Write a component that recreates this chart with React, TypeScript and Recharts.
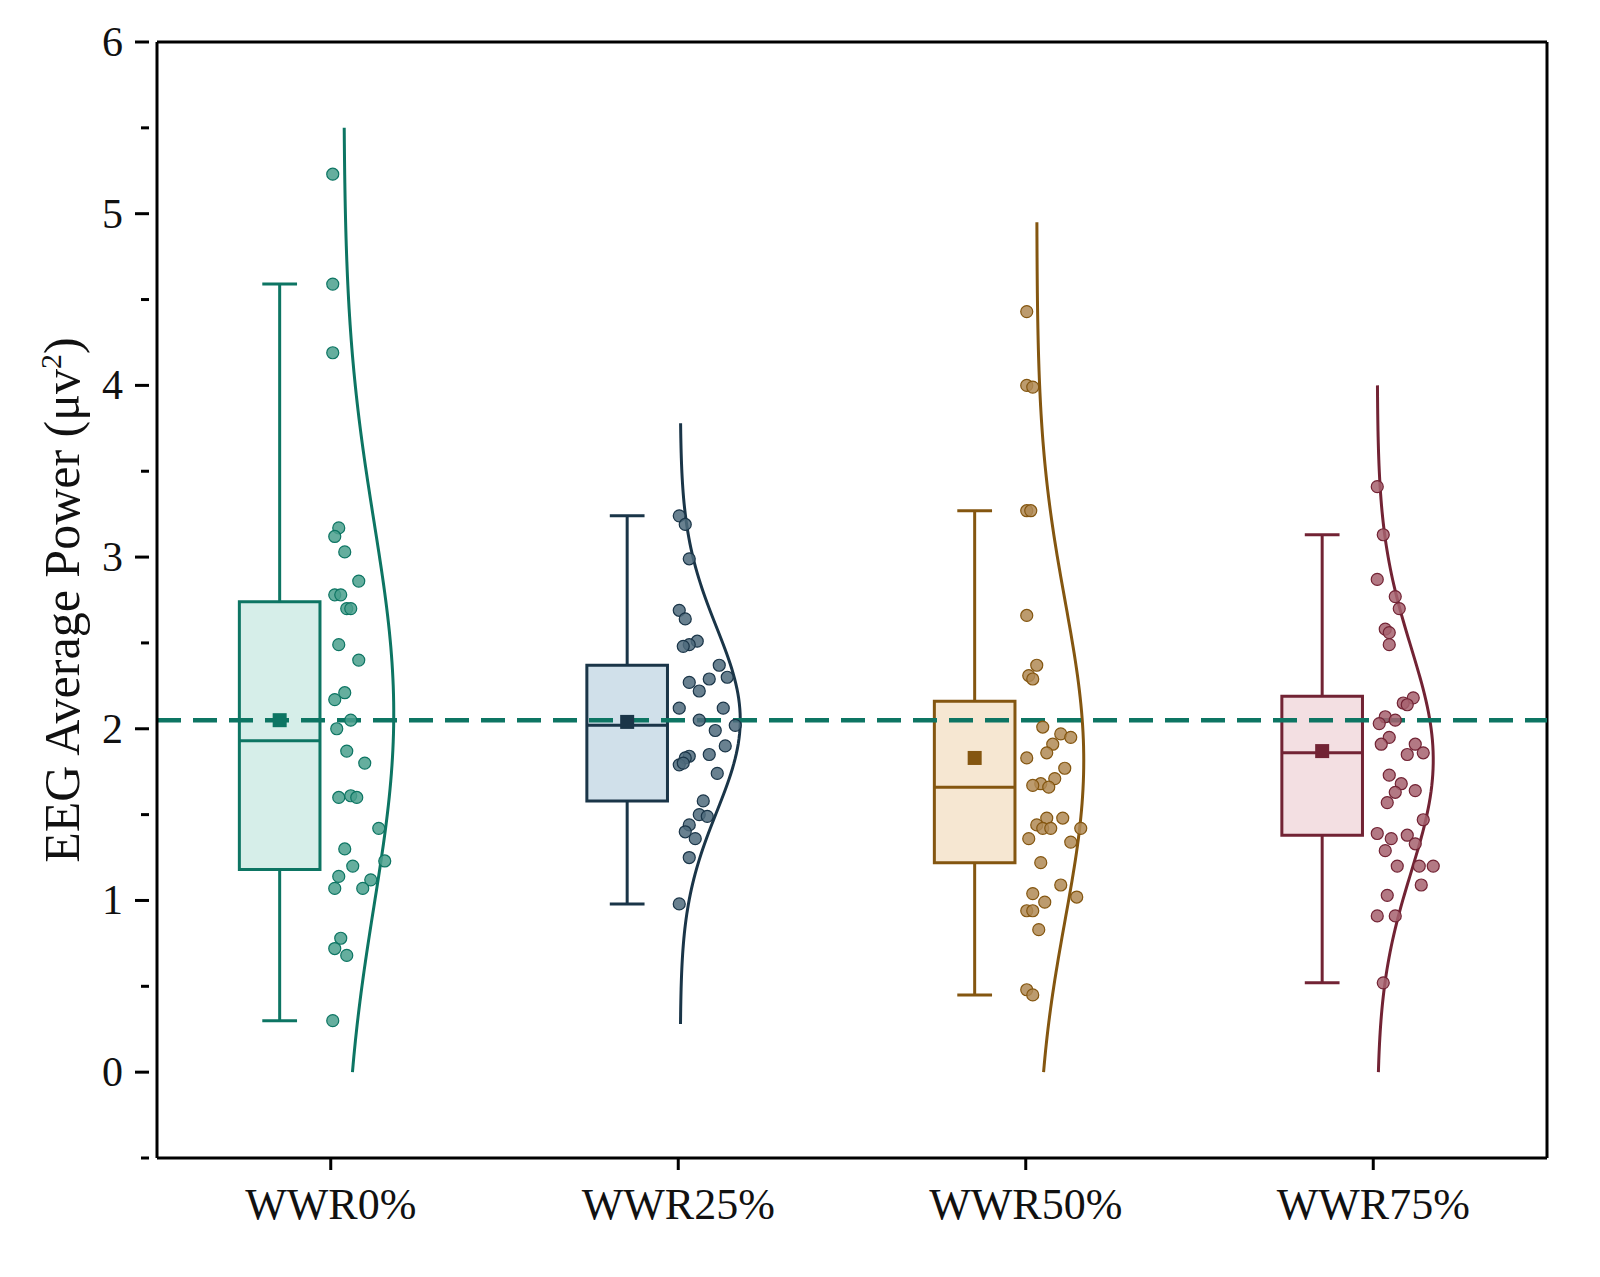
import { ComposedChart, XAxis, YAxis, Scatter, Line, ReferenceArea, ReferenceLine } from 'recharts'

const categories = ['WWR0%', 'WWR25%', 'WWR50%', 'WWR75%']
const strokes = ['#0d7563', '#1a3548', '#845610', '#722334']
const fills = ['#d6eee9', '#d0e0ea', '#f6e7d2', '#f3dfe2']
const dotFills = ['#4aa08d', '#4f6b7d', '#b08a55', '#a6626f']

// box stats: [whisker low, Q1, median, Q3, whisker high, mean]
const boxStats = [
  [0.3, 1.18, 1.93, 2.74, 4.59, 2.05],
  [0.98, 1.58, 2.02, 2.37, 3.24, 2.04],
  [0.45, 1.22, 1.66, 2.16, 3.27, 1.83],
  [0.52, 1.38, 1.86, 2.19, 3.13, 1.87],
]

// raw points: [jitter px from category centre, value]
const points0 = [[2,5.23],[2,4.59],[2,4.19],[8,3.17],[4,3.12],[14,3.03],[28,2.86],[4,2.78],[10,2.78],[16,2.7],[20,2.7],[8,2.49],[28,2.4],[14,2.21],[4,2.17],[20,2.05],[6,2.0],[16,1.87],[34,1.8],[8,1.6],[20,1.61],[26,1.6],[48,1.42],[14,1.3],[22,1.2],[54,1.23],[8,1.14],[40,1.12],[32,1.07],[4,1.07],[10,0.78],[4,0.72],[16,0.68],[2,0.3]]
const points1 = [[1,3.24],[7,3.19],[11,2.99],[1,2.69],[7,2.64],[19,2.51],[11,2.49],[5,2.48],[41,2.37],[49,2.3],[31,2.29],[11,2.27],[21,2.22],[1,2.12],[45,2.12],[57,2.02],[21,2.05],[37,1.99],[47,1.9],[31,1.85],[11,1.84],[7,1.83],[1,1.79],[5,1.8],[39,1.74],[25,1.58],[21,1.5],[29,1.49],[11,1.44],[7,1.4],[17,1.36],[11,1.25],[1,0.98]]
const points2 = [[1,4.43],[1,4.0],[7,3.99],[1,3.27],[5,3.27],[1,2.66],[11,2.37],[3,2.31],[7,2.29],[17,2.01],[35,1.97],[45,1.95],[27,1.91],[21,1.86],[1,1.83],[39,1.77],[29,1.71],[15,1.68],[23,1.66],[7,1.67],[21,1.48],[37,1.48],[11,1.44],[17,1.42],[25,1.42],[55,1.42],[3,1.36],[45,1.34],[15,1.22],[35,1.09],[7,1.04],[19,0.99],[51,1.02],[1,0.94],[7,0.94],[13,0.83],[1,0.48],[7,0.45]]
const points3 = [[4,3.41],[10,3.13],[4,2.87],[22,2.77],[26,2.7],[12,2.58],[16,2.56],[16,2.49],[40,2.18],[30,2.15],[34,2.14],[12,2.07],[6,2.03],[22,2.05],[16,1.95],[8,1.91],[42,1.91],[50,1.86],[34,1.85],[16,1.73],[28,1.68],[22,1.63],[42,1.64],[14,1.57],[50,1.47],[4,1.39],[34,1.38],[18,1.36],[42,1.33],[12,1.29],[24,1.2],[46,1.2],[60,1.2],[48,1.09],[14,1.03],[4,0.91],[22,0.91],[10,0.52]]
const allPoints = [points0, points1, points2, points3]

// density curve: [base offset px, low end, high end, peak width px]
const curves = [
  [13, 0, 5.5, 50],
  [2, 0.28, 3.78, 60],
  [11, 0, 4.95, 47],
  [4, 0, 4.0, 56],
]

const meanLine = 2.05
const yTicks = [-0.5, 0, 0.5, 1, 1.5, 2, 2.5, 3, 3.5, 4, 4.5, 5, 5.5, 6]
const PX = 1 / 347.5 // x units per pixel
const boxOffset = -0.147
const boxHalf = 0.116

const font = '"Liberation Serif", "Times New Roman", serif'

const YTick = (props: any) => {
  const { x, y, payload } = props
  const major = Number.isInteger(payload.value) && payload.value >= 0
  return (
    <g>
      <line x1={x} x2={x - (major ? 14 : 8)} y1={y} y2={y} stroke="#000" strokeWidth={3} />
      {major && (
        <text x={x - 26} y={y} dy={14} textAnchor="end" fontSize={42} fontFamily={font} fill="#111">
          {payload.value}
        </text>
      )}
    </g>
  )
}

const meanSquare = (color: string) => (props: any) => (
  <rect x={props.cx - 7} y={props.cy - 7} width={14} height={14} fill={color} />
)

const dot = (fill: string, stroke: string) => (props: any) => (
  <circle cx={props.cx} cy={props.cy} r={6} fill={fill} fillOpacity={0.85} stroke={stroke} strokeWidth={1.2} />
)

export default function App() {
  const scatterData = allPoints.map((pts, i) =>
    pts.map(([dx, v]) => ({ x: i + 0.5 + dx * PX, y: v }))
  )

  const curveData = allPoints.map((pts, i) => {
    const vals = pts.map((p) => p[1])
    const mean = vals.reduce((a, b) => a + b, 0) / vals.length
    const sd = Math.sqrt(vals.reduce((a, b) => a + (b - mean) ** 2, 0) / vals.length)
    const [base, lo, hi, width] = curves[i]
    const out: { x: number; y: number }[] = []
    for (let k = 0; k <= 120; k++) {
      const y = lo + ((hi - lo) * k) / 120
      const d = Math.exp(-0.5 * ((y - mean) / sd) ** 2)
      out.push({ x: i + 0.5 + (base + width * d) * PX, y })
    }
    return out
  })

  return (
    <div style={{ position: 'absolute', left: 0, top: 0, width: 1600, height: 1277, background: '#fff' }}>
      <div
        style={{
          position: 'absolute', left: 62, top: 600, transform: 'translate(-50%, -50%) rotate(-90deg)',
          fontFamily: font, fontSize: 50, whiteSpace: 'nowrap', color: '#111',
        }}
      >
        EEG Average Power (μv<sup style={{ fontSize: 30 }}>2</sup>)
      </div>
      <ComposedChart width={1600} height={1277} margin={{ top: 42, right: 53, left: 57, bottom: 39 }}>
        <XAxis
          type="number" dataKey="x" domain={[0, 4]} ticks={[0.5, 1.5, 2.5, 3.5]}
          tickFormatter={(v: number) => categories[Math.floor(v)]}
          height={80} stroke="#000" strokeWidth={3} tickSize={12}
          tick={{ fontSize: 44, fontFamily: font, fill: '#111', dy: 16 }}
        />
        <YAxis
          type="number" dataKey="y" domain={[-0.5, 6]} ticks={yTicks} interval={0}
          width={100} stroke="#000" strokeWidth={3} tickLine={false} tick={<YTick />}
        />
        <ReferenceLine y={6} stroke="#000" strokeWidth={3} />
        <ReferenceLine x={4} stroke="#000" strokeWidth={3} />
        {boxStats.map(([lo, q1, med, q3, hi], i) => {
          const c = i + 0.5 + boxOffset
          const s = strokes[i]
          return [
            <ReferenceLine key={`wu${i}`} segment={[{ x: c, y: q3 }, { x: c, y: hi }]} stroke={s} strokeWidth={3} />,
            <ReferenceLine key={`wl${i}`} segment={[{ x: c, y: lo }, { x: c, y: q1 }]} stroke={s} strokeWidth={3} />,
            <ReferenceLine key={`cu${i}`} segment={[{ x: c - 0.05, y: hi }, { x: c + 0.05, y: hi }]} stroke={s} strokeWidth={3} />,
            <ReferenceLine key={`cl${i}`} segment={[{ x: c - 0.05, y: lo }, { x: c + 0.05, y: lo }]} stroke={s} strokeWidth={3} />,
            <ReferenceArea key={`b${i}`} x1={c - boxHalf} x2={c + boxHalf} y1={q1} y2={q3} fill={fills[i]} fillOpacity={1} stroke={s} strokeWidth={3} />,
            <ReferenceLine key={`m${i}`} segment={[{ x: c - boxHalf, y: med }, { x: c + boxHalf, y: med }]} stroke={s} strokeWidth={3} />,
          ]
        })}
        {curveData.map((d, i) => (
          <Line key={`c${i}`} data={d} dataKey="y" type="linear" dot={false} stroke={strokes[i]} strokeWidth={3} isAnimationActive={false} />
        ))}
        {scatterData.map((d, i) => (
          <Scatter key={`s${i}`} data={d} shape={dot(dotFills[i], strokes[i])} isAnimationActive={false} />
        ))}
        {boxStats.map((b, i) => (
          <Scatter key={`mean${i}`} data={[{ x: i + 0.5 + boxOffset, y: b[5] }]} shape={meanSquare(strokes[i])} isAnimationActive={false} />
        ))}
        <ReferenceLine y={meanLine} stroke="#0d7563" strokeWidth={4.5} strokeDasharray="24 12" />
      </ComposedChart>
    </div>
  )
}
